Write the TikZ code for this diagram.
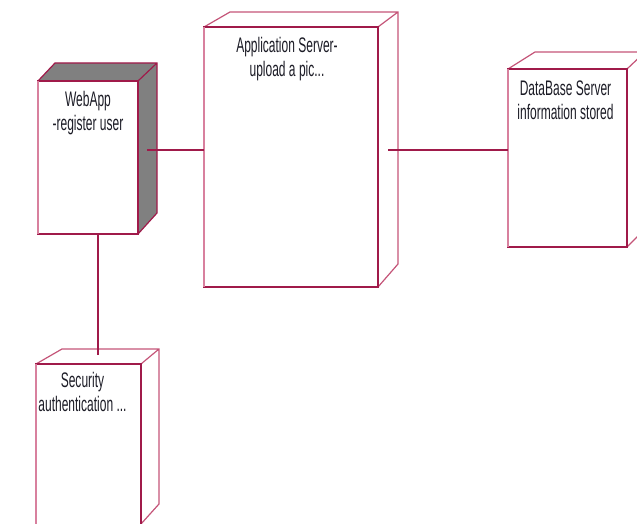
\documentclass[tikz,border=0pt]{standalone}
\usepackage{fontspec}
\setmainfont{Liberation Sans}[FakeStretch=0.57]
\usetikzlibrary{calc,fit}

\definecolor{edgedark}{RGB}{160,26,74}
\definecolor{edgemid}{RGB}{196,84,120}
\definecolor{edgelight}{RGB}{216,128,158}
\definecolor{sidegray}{RGB}{128,128,128}
\definecolor{textink}{RGB}{28,28,38}

\begin{document}
\begin{tikzpicture}[x=0.75pt,y=-0.75pt,
  face/.style={rectangle, inner sep=0pt, outer sep=0pt, fill=white,
               draw=edgedark, line width=1.3pt},
  leftrim/.style={draw=edgelight, line width=1pt},
  backrim/.style={draw=edgemid, line width=0.9pt, line join=miter},
  shade3d/.style={fill=sidegray},
  link/.style={draw=edgedark, line width=1.1pt},
  caption/.style={anchor=north, inner sep=0pt, align=center, text=textink,
                  font=\fontsize{15.8pt}{18pt}\selectfont}]

\useasboundingbox (0,0) rectangle (637,524);
\clip (0,0) rectangle (637,524);

% ---------- WebApp (shaded node) ----------
\coordinate (web-btl) at (55,63);
\coordinate (web-btr) at (157,63);
\coordinate (web-bbr) at (157,213);
\path (38,81) coordinate (web-a) (138,234) coordinate (web-b);
\fill[shade3d] (web-a) -- (web-btl) -- (web-btr) -- (web-bbr) -- (138,234) -- (138,81) -- cycle;
\draw[backrim, draw=edgedark] (web-a) -- (web-btl) -- (web-btr) -- (web-bbr) -- (138,234)
      (138,81) -- (web-btr);
\node[face, fit=(web-a)(web-b)] (web) {};
\draw[leftrim] (web.north west) -- (web.south west);
\node[caption] at ($(web.north)+(0,10)$) {WebApp\\-register user};

% ---------- Application Server ----------
\coordinate (app-btl) at (230,12);
\coordinate (app-btr) at (398,12);
\coordinate (app-bbr) at (398,264);
\path (204,27) coordinate (app-a) (378,287) coordinate (app-b);
\draw[backrim] (app-a) -- (app-btl) -- (app-btr) -- (app-bbr) -- (378,287)
      (378,27) -- (app-btr);
\node[face, fit=(app-a)(app-b)] (app) {};
\draw[leftrim] (app.north west) -- (app.south west);
\node[caption] at ($(app.north)+(-4,10)$) {Application Server-\\upload a pic...};

% ---------- DataBase Server ----------
\coordinate (db-btl) at (535,52);
\coordinate (db-btr) at (645,52);
\coordinate (db-bbr) at (645,229);
\path (508,69) coordinate (db-a) (627,247) coordinate (db-b);
\draw[backrim] (db-a) -- (db-btl) -- (db-btr) -- (db-bbr) -- (627,247)
      (627,69) -- (db-btr);
\node[face, fit=(db-a)(db-b)] (db) {};
\draw[leftrim] (db.north west) -- (db.south west);
\node[caption] at ($(db.north)+(-2,12)$) {DataBase Server\\information stored};

% ---------- Security ----------
\coordinate (sec-btl) at (62,349);
\coordinate (sec-btr) at (159,349);
\coordinate (sec-bbr) at (159,504);
\path (36,364) coordinate (sec-a) (141,528) coordinate (sec-b);
\draw[backrim] (sec-a) -- (sec-btl) -- (sec-btr) -- (sec-bbr) -- (141,524)
      (141,364) -- (sec-btr);
\node[face, fit=(sec-a)(sec-b)] (sec) {};
\draw[leftrim] (sec.north west) -- (sec.south west);
\node[caption] at ($(sec.north)+(-6,8)$) {Security\\authentication ...};

% ---------- links ----------
\coordinate (web-side) at (147,150);
\coordinate (app-side) at (388,150);
\coordinate (sec-top) at (98,355);
\draw[link] (web-side) -- (web-side -| app.west);
\draw[link] (app-side) -- (app-side -| db.west);
\draw[link] (sec-top) -- (sec-top |- web.south);
\end{tikzpicture}
\end{document}
